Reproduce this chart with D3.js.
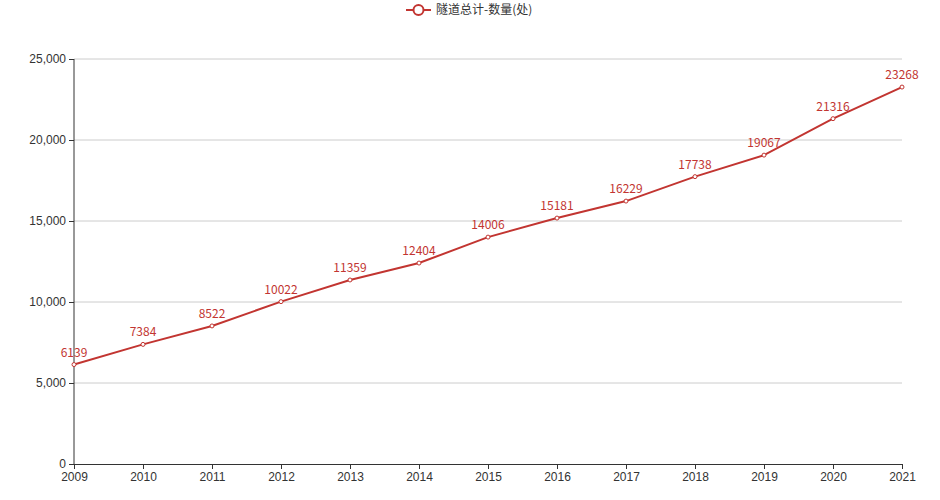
<!DOCTYPE html>
<html><head><meta charset="utf-8">
<script src="https://cdn.jsdelivr.net/npm/d3@7/dist/d3.min.js"></script>
<style>body{margin:0;background:#fff;font-family:"Microsoft YaHei","Noto Sans CJK SC",sans-serif;}</style>
</head><body><div id="chart"></div>
<script>
const years = ["2009","2010","2011","2012","2013","2014","2015","2016","2017","2018","2019","2020","2021"];
const tunnels = [6139,7384,8522,10022,11359,12404,14006,15181,16229,17738,19067,21316,23268];
const yTicks = [0,5000,10000,15000,20000,25000];
const seriesName = "隧道总计-数量(处)";

const width = 940, height = 500;
const color = "#c23531";
const margin = {left: 74, right: 38, top: 59, bottom: 36};

const svg = d3.select("#chart").append("svg").attr("width", width).attr("height", height);

const x = d3.scalePoint().domain(years).range([margin.left, width - margin.right]);
const y = d3.scaleLinear().domain([0, 25000]).range([height - margin.bottom, margin.top]);

// grid
svg.append("g").selectAll("line").data(yTicks.slice(1)).join("line")
  .attr("x1", margin.left).attr("x2", width - margin.right)
  .attr("y1", d => y(d)).attr("y2", d => y(d))
  .attr("stroke", "#ccc");

// axes
const yAxis = svg.append("g").attr("transform", `translate(${margin.left},0)`)
  .call(d3.axisLeft(y).tickValues(yTicks).tickFormat(d3.format(",")).tickSize(5));
const xAxis = svg.append("g").attr("transform", `translate(0,${y(0)})`)
  .call(d3.axisBottom(x).tickSize(5));
[xAxis, yAxis].forEach(a => {
  a.selectAll("path,line").attr("stroke", "#333");
  a.selectAll("text").attr("fill", "#333").style("font-size", "12px");
});
yAxis.select(".domain").attr("d", `M0,${y(25000)}V${y(0)}`);

// line
const line = d3.line().x((d, i) => x(years[i])).y(d => y(d));
svg.append("path").datum(tunnels).attr("d", line)
  .attr("fill", "none").attr("stroke", color).attr("stroke-width", 2);

svg.selectAll("circle.pt").data(tunnels).join("circle").attr("class", "pt")
  .attr("cx", (d, i) => x(years[i])).attr("cy", d => y(d)).attr("r", 2)
  .attr("fill", "#fff").attr("stroke", color);

svg.selectAll("text.lbl").data(tunnels).join("text").attr("class", "lbl")
  .attr("x", (d, i) => x(years[i])).attr("y", d => y(d) - 8)
  .attr("text-anchor", "middle").attr("fill", color).style("font-size", "12px")
  .text(d => d);

// legend
const lg = svg.append("g").attr("transform", `translate(${width/2 - 64},10)`);
lg.append("line").attr("x1", 0).attr("x2", 25).attr("y1", 0).attr("y2", 0).attr("stroke", color).attr("stroke-width", 2);
lg.append("circle").attr("cx", 12.5).attr("cy", 0).attr("r", 5).attr("fill", "#fff").attr("stroke", color).attr("stroke-width", 2);
lg.append("text").attr("x", 30).attr("y", 4).attr("fill", "#333").style("font-size", "12px").text(seriesName);
</script></body></html>
